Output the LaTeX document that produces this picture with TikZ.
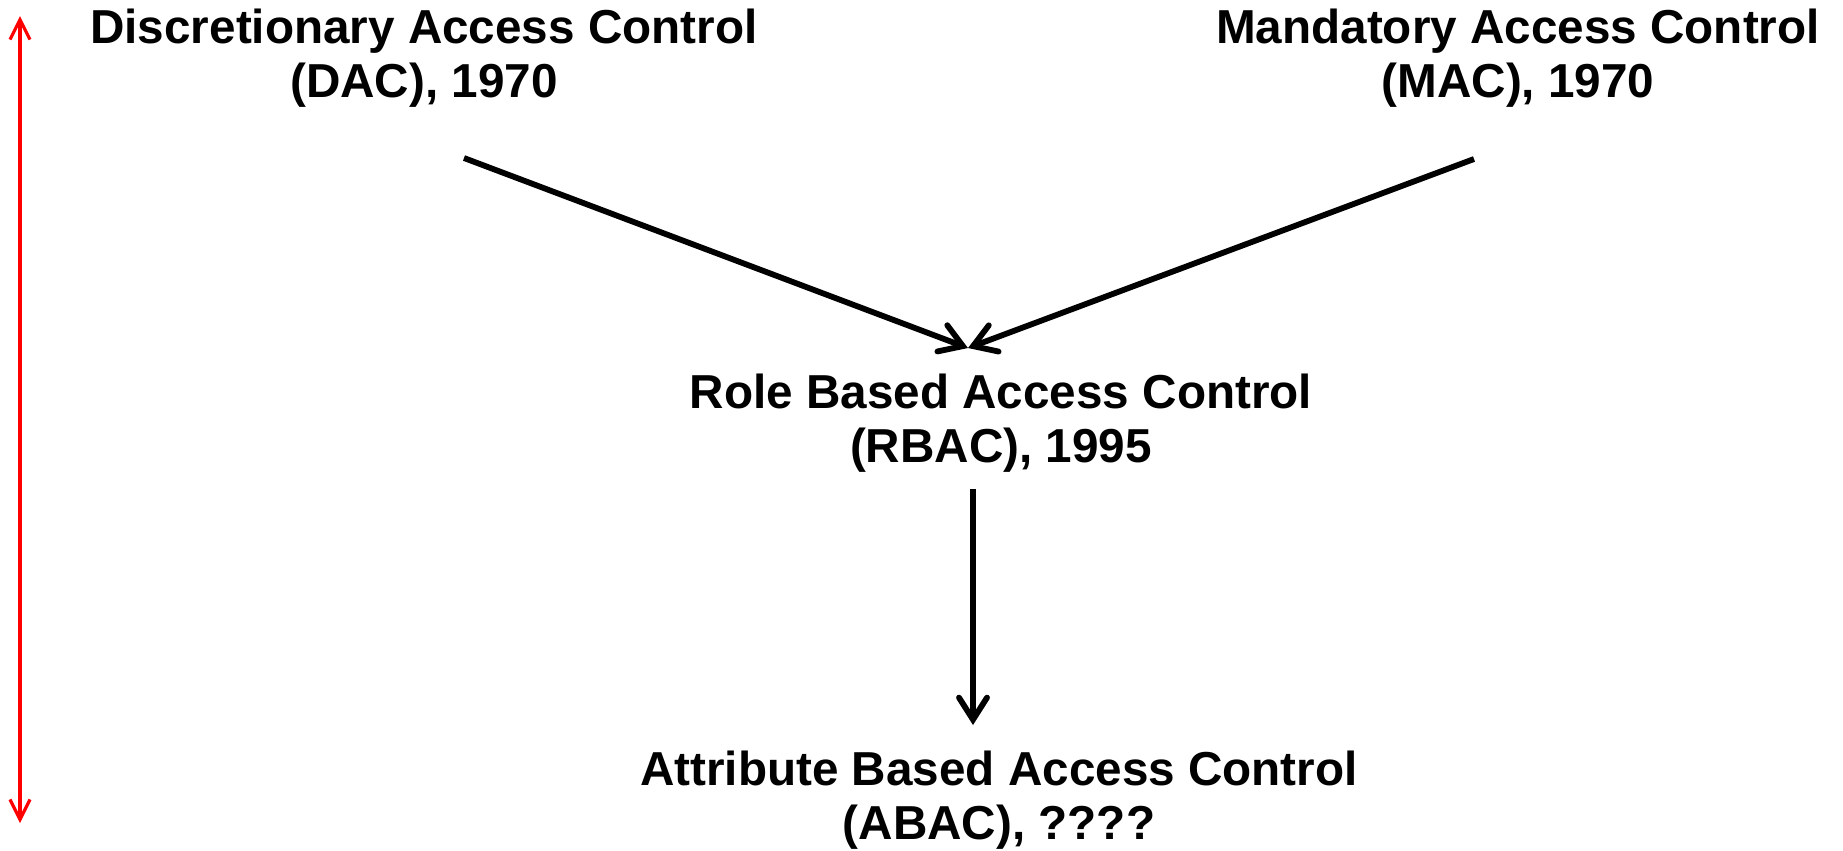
\documentclass[tikz,border=0pt]{standalone}
\usepackage{fontspec}
\setmainfont{Liberation Sans}
\usetikzlibrary{arrows.meta}
\begin{document}
\begin{tikzpicture}[x=0.01cm,y=-0.01cm,
  lbl/.style={align=center,inner sep=0pt,font=\fontsize{13.55pt}{15.4pt}\selectfont\bfseries},
  conn/.style={line width=0.058cm,-{Straight Barb[length=2.2mm,width=2.8mm,line cap=round]}},
  timeline/.style={red,line width=0.032cm,{Straight Barb[length=2mm,width=2mm]}-{Straight Barb[length=2mm,width=2mm]}}]
\useasboundingbox[fill=white] (0,0) rectangle (1843,850);
\node[lbl] (dac) at (424,58) {Discretionary Access Control\\(DAC), 1970};
\node[lbl] (mac) at (1518,58) {Mandatory Access Control\\(MAC), 1970};
\node[lbl] (rbac) at (1001,423) {Role Based Access Control\\(RBAC), 1995};
\node[lbl] (abac) at (999,800) {Attribute Based Access Control\\(ABAC), ????};
\coordinate (dacout) at (464,158);
\coordinate (macout) at (1474,159);
\coordinate (rbacin) at (968,348);
\coordinate (rbacout) at (973,489);
\coordinate (abacin) at (973,725);
\coordinate (ttop) at (20,16);
\coordinate (tbot) at (20,823);
\draw[conn] (dacout) -- (rbacin);
\draw[conn] (macout) -- (rbacin);
\draw[conn] (rbacout) -- (abacin);
\draw[timeline] (ttop) -- (tbot);
\end{tikzpicture}
\end{document}
